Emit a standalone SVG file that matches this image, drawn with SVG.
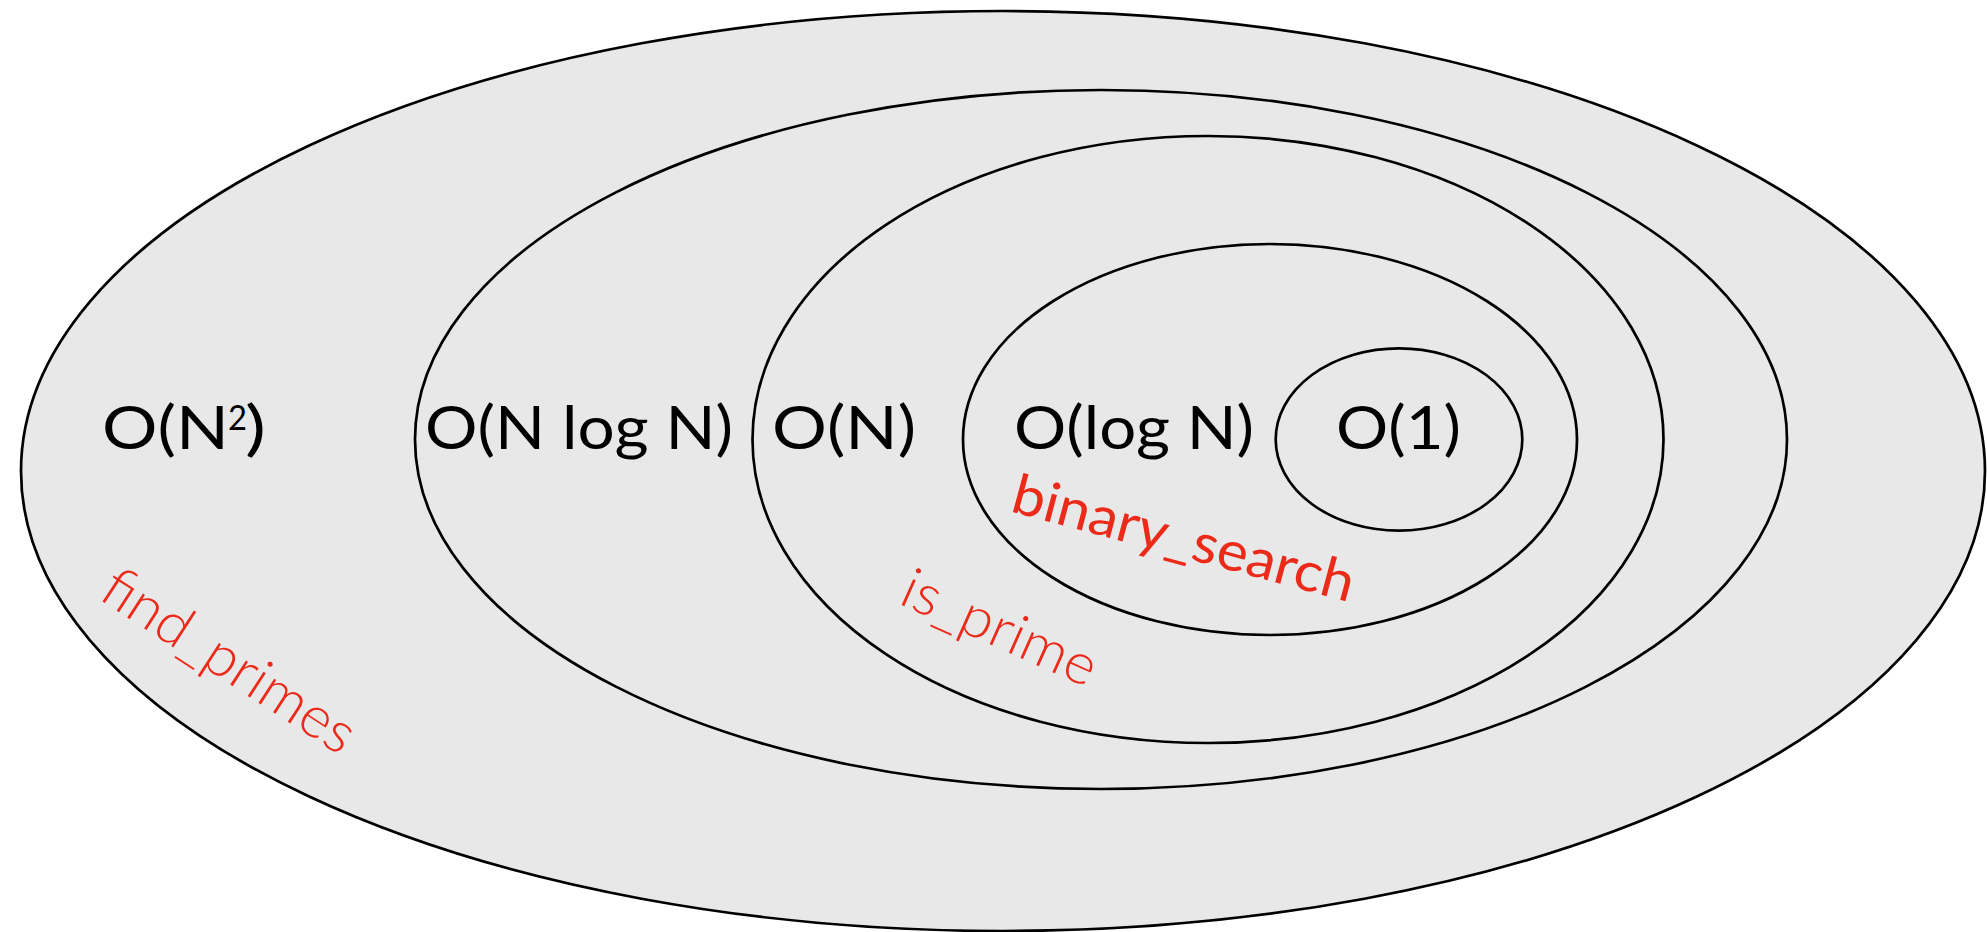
<svg xmlns="http://www.w3.org/2000/svg" width="1987" height="932" viewBox="0 0 1987 932">
<style>
.ring{fill:#e8e8e8;stroke:#000;stroke-width:2.7}
.lbl{font-family:Lato,"Liberation Sans",sans-serif;font-size:60px;fill:#000}
.red{font-family:Lato,"Liberation Sans",sans-serif;fill:#ec2a1a}
.light{font-weight:300}
</style>
<rect width="1987" height="932" fill="#fff"/>
<g id="n2">
<ellipse class="ring" cx="1003" cy="471" rx="982" ry="460"/>
<text class="lbl"><tspan x="102" y="449" textLength="127" lengthAdjust="spacingAndGlyphs">O(N</tspan><tspan x="228" y="430" font-size="34" textLength="19" lengthAdjust="spacingAndGlyphs">2</tspan><tspan x="245" y="449" textLength="21" lengthAdjust="spacingAndGlyphs">)</tspan></text>
<text class="red light" x="97" y="598" font-size="58" textLength="290" lengthAdjust="spacingAndGlyphs" transform="rotate(33 97 598)">find_primes</text>
</g>
<g id="nlogn">
<ellipse class="ring" cx="1101" cy="439.5" rx="686" ry="349.5"/>
<text class="lbl" x="425" y="449" textLength="308" lengthAdjust="spacingAndGlyphs">O(N log N)</text>
</g>
<g id="n">
<ellipse class="ring" cx="1208" cy="439.5" rx="455.5" ry="303.5"/>
<text class="lbl" x="772" y="449" textLength="144" lengthAdjust="spacingAndGlyphs">O(N)</text>
<text class="red light" x="897" y="603" font-size="57" textLength="208" lengthAdjust="spacingAndGlyphs" transform="rotate(24 897 603)">is_prime</text>
</g>
<g id="logn">
<ellipse class="ring" cx="1270" cy="439.5" rx="307" ry="195.5"/>
<text class="lbl" x="1014" y="449" textLength="240" lengthAdjust="spacingAndGlyphs">O(log N)</text>
<text class="red" x="1009" y="511" font-size="55" textLength="352" lengthAdjust="spacingAndGlyphs" transform="rotate(15 1009 511)">binary_search</text>
</g>
<g id="one">
<ellipse class="ring" cx="1399" cy="439.5" rx="123.3" ry="91.2"/>
<text class="lbl" x="1336" y="449" textLength="125" lengthAdjust="spacingAndGlyphs">O(1)</text>
</g>
<g id="connectors"/>
</svg>
